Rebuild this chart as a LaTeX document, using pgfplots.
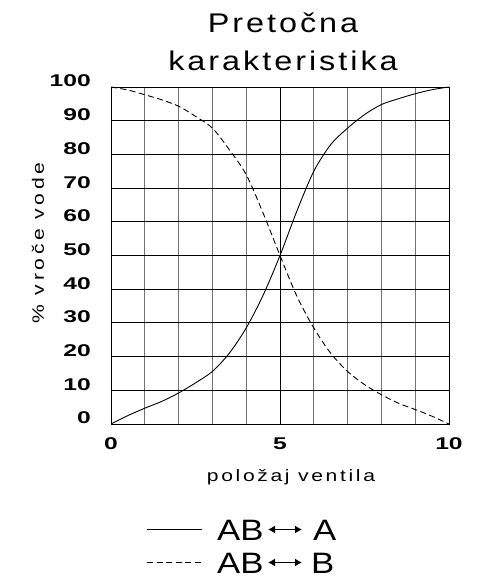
\documentclass[border=0pt]{standalone}
\usepackage{pgfplots}
\pgfplotsset{compat=1.18}
\usetikzlibrary{arrows.meta}
\usepackage{fontspec}
\setmainfont{Liberation Sans}
\newfontfamily\titlefont[LetterSpace=11,FakeStretch=1.2]{Liberation Sans}
\newfontfamily\labfont[LetterSpace=16,FakeStretch=1.28]{Liberation Sans}
\newfontfamily\ylabfont[LetterSpace=22,FakeStretch=1.28]{Liberation Sans}
\newfontfamily\tickfont[FakeStretch=1.45]{Liberation Sans Bold}
\newfontfamily\legfont[FakeStretch=1.18]{Liberation Sans}
\begin{document}
\begin{tikzpicture}
\useasboundingbox (-111pt,-154pt) rectangle (368pt,424pt);
\begin{axis}[
  at={(0pt,0pt)}, anchor=south west,
  scale only axis, width=338pt, height=337pt,
  xmin=0, xmax=10, ymin=0, ymax=100,
  xtick={0,1,...,10}, xticklabels={0,,,,,5,,,,,10},
  ytick={0,10,...,100}, yticklabels={0,10,20,30,40,50,60,70,80,90,100},
  major tick length=0pt,
  xmajorgrids, ymajorgrids,
  x grid style={draw=black!55, line width=0.8pt},
  y grid style={draw=black, line width=0.8pt},
  axis line style={line width=0.9pt},
  /pgf/number format/assume math mode=true,
  xticklabel style={font=\tickfont\fontsize{17}{19}\selectfont, anchor=base, inner sep=0pt, yshift=-26pt},
  yticklabel style={font=\tickfont\fontsize{17}{19}\selectfont, anchor=base east, inner sep=0pt, xshift=-20pt},
]
\draw[black, line width=0.8pt] (axis cs:5,0) -- (axis cs:5,100);
\addplot[black, line width=0.9pt, smooth] coordinates {
(0,0) (0.5,2.5) (1,4.7) (1.5,6.7) (2,9.2) (2.5,12.2) (3,15.6) (3.5,21) (4,28.5) (4.5,38.2) (5,50) (5.5,63.2) (6,75) (6.5,82.9) (7,87.8) (7.5,91.8) (8,94.8) (8.5,96.5) (9,98) (9.5,99.2) (10,100)};
\addplot[black, line width=0.9pt, smooth, dash pattern=on 6pt off 3.5pt] coordinates {
(0,100) (0.5,99.1) (1,97.7) (1.5,96.2) (2,94.3) (2.5,91.3) (3,87.8) (3.5,81.4) (4,74) (4.5,62.6) (5,50) (5.5,37.9) (6,28.5) (6.5,21) (7,15.6) (7.5,11.7) (8,8.7) (8.5,6.2) (9,4.3) (9.5,2.3) (10,0)};
\end{axis}
\node[anchor=base, inner sep=0pt, font=\titlefont\fontsize{27}{30}\selectfont] at (172pt,391pt) {Pretočna};
\node[anchor=base, inner sep=0pt, font=\titlefont\fontsize{27}{30}\selectfont] at (172pt,353pt) {karakteristika};
\node[anchor=base, inner sep=0pt, font=\labfont\fontsize{16.5}{19}\selectfont] at (180pt,-57pt) {položaj ventila};
\node[anchor=base, rotate=90, inner sep=0pt, font=\ylabfont\fontsize{16.5}{19}\selectfont] at (-67pt,181pt) {\% vroče vode};
% legend
\draw[black, line width=0.8pt] (36pt,-105pt) -- (91pt,-105pt);
\draw[black, line width=0.8pt, dash pattern=on 6pt off 3.5pt] (36pt,-138pt) -- (91pt,-138pt);
\node[anchor=base west, inner sep=0pt, font=\legfont\fontsize{29.5}{31}\selectfont] at (106pt,-116pt) {AB};
\node[anchor=base west, inner sep=0pt, font=\legfont\fontsize{29.5}{31}\selectfont] at (202pt,-116pt) {A};
\node[anchor=base west, inner sep=0pt, font=\legfont\fontsize{29.5}{31}\selectfont] at (106pt,-149pt) {AB};
\node[anchor=base west, inner sep=0pt, font=\legfont\fontsize{29.5}{31}\selectfont] at (200pt,-149pt) {B};
\draw[line width=1.2pt, {Latex[length=7pt,width=8pt]}-{Latex[length=7pt,width=8pt]}] (157pt,-105.5pt) -- (191pt,-105.5pt);
\draw[line width=1.2pt, {Latex[length=7pt,width=8pt]}-{Latex[length=7pt,width=8pt]}] (157pt,-138.5pt) -- (191pt,-138.5pt);
\end{tikzpicture}
\end{document}
